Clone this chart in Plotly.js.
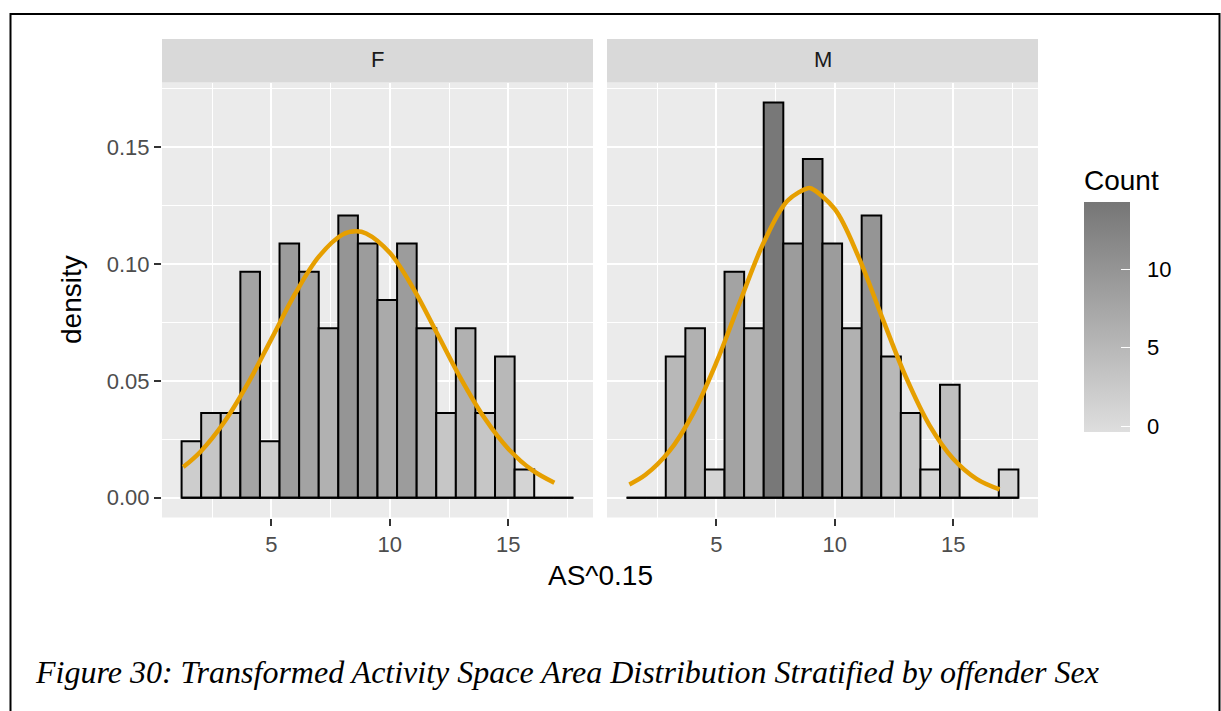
<!DOCTYPE html>
<html>
<head>
<meta charset="utf-8">
<script src="https://cdn.plot.ly/plotly-3.0.1.min.js"></script>
<style>
  html, body { margin: 0; padding: 0; background: #ffffff; }
  #chart { width: 1221px; height: 711px; }
</style>
</head>
<body>
<div id="chart"></div>
<script>
// ---- data ----
const facets = ["F", "M"];
const binStart = 1.2025;
const binWidth = 0.8276;
const countsF = [2, 3, 3, 8, 2, 9, 8, 6, 10, 9, 7, 9, 6, 3, 6, 3, 5, 1, 0, 0];
const countsM = [0, 0, 5, 6, 1, 8, 6, 14, 9, 12, 9, 6, 10, 5, 3, 1, 4, 0, 0, 1];
const curveFx = [1.27, 2, 3, 4, 5, 6, 7, 8, 8.56, 9, 10, 11, 12, 13, 14, 15, 16, 16.95];
const curveFy = [0.0131, 0.0197, 0.0323, 0.0488, 0.0680, 0.0873, 0.1032, 0.1126, 0.1140, 0.1131, 0.1048, 0.0894, 0.0703, 0.0510, 0.0341, 0.0210, 0.0119, 0.0064];
const curveMx = [1.32, 2, 3, 4, 5, 6, 7, 8, 8.87, 9, 10, 11, 12, 13, 14, 15, 16, 16.96];
const curveMy = [0.0057, 0.0098, 0.0198, 0.0358, 0.0580, 0.0841, 0.1093, 0.1271, 0.1325, 0.1324, 0.1235, 0.1031, 0.0771, 0.0517, 0.0310, 0.0167, 0.0080, 0.0036];
const xTickVals = [5, 10, 15];
const yTickVals = [0, 0.05, 0.10, 0.15];
const legendTicks = [0, 5, 10];
const captionText = "Figure 30: Transformed Activity Space Area Distribution Stratified by offender Sex";

// ---- derived ----
const W = 1221, H = 711;
const px = v => v / W;
const py = v => 1 - v / H;

function centers(counts) { return counts.map((_, i) => binStart + (i + 0.5) * binWidth); }
function densities(counts) {
  const n = counts.reduce((a, b) => a + b, 0);
  return counts.map(c => c / (n * binWidth));
}
const binEnd = binStart + countsF.length * binWidth;

const sans = "Liberation Sans, Arial, Helvetica, sans-serif";
const barLine = { color: "#000000", width: 2 };

const traces = [
  {
    type: "bar", x: centers(countsF), y: densities(countsF), width: binWidth,
    xaxis: "x", yaxis: "y",
    marker: { color: countsF, coloraxis: "coloraxis", line: barLine },
    hoverinfo: "skip"
  },
  {
    type: "bar", x: centers(countsM), y: densities(countsM), width: binWidth,
    xaxis: "x2", yaxis: "y2",
    marker: { color: countsM, coloraxis: "coloraxis", line: barLine },
    hoverinfo: "skip"
  },
  {
    type: "scatter", mode: "lines", x: [binStart, binEnd], y: [0, 0],
    xaxis: "x", yaxis: "y", line: { color: "#000000", width: 2 }, hoverinfo: "skip"
  },
  {
    type: "scatter", mode: "lines", x: [binStart, binEnd], y: [0, 0],
    xaxis: "x2", yaxis: "y2", line: { color: "#000000", width: 2 }, hoverinfo: "skip"
  },
  {
    type: "scatter", mode: "lines", x: curveFx, y: curveFy,
    xaxis: "x", yaxis: "y", line: { color: "#E69F00", width: 4.5, shape: "spline" }, hoverinfo: "skip"
  },
  {
    type: "scatter", mode: "lines", x: curveMx, y: curveMy,
    xaxis: "x2", yaxis: "y2", line: { color: "#E69F00", width: 4.5, shape: "spline" }, hoverinfo: "skip"
  }
];

const panelTop = 82.5, panelBottom = 517.5, stripTop = 39;
const fLeft = 162, fRight = 593, mLeft = 607, mRight = 1038;

// colour bar geometry (pixels)
const cbLeft = 1084, cbWidth = 46, cbTop = 201.7, cbBottom = 431.7, cbTitleH = 36;
const cbMin = -0.36, cbMax = 14.31;

function xAxis(domain, anchor) {
  return {
    domain: domain, anchor: anchor,
    range: [0.375, 18.583],
    tickvals: xTickVals, ticktext: xTickVals.map(String),
    ticks: "outside", ticklen: 7, tickwidth: 2, tickcolor: "#333333",
    tickfont: { family: sans, size: 22, color: "#4d4d4d" },
    showgrid: true, gridcolor: "#ffffff", gridwidth: 2,
    minor: { dtick: 2.5, tick0: 0, showgrid: true, gridcolor: "#ffffff", gridwidth: 1, ticks: "" },
    zeroline: false, showline: false, fixedrange: true
  };
}
function yAxis(anchor, showLabels) {
  return {
    domain: [py(panelBottom), py(panelTop)], anchor: anchor,
    range: [-0.00846, 0.1777],
    tickvals: yTickVals, ticktext: yTickVals.map(v => v.toFixed(2)),
    ticks: showLabels ? "outside" : "", ticklen: 7, tickwidth: 2, tickcolor: "#333333",
    showticklabels: showLabels,
    tickfont: { family: sans, size: 22, color: "#4d4d4d" },
    showgrid: true, gridcolor: "#ffffff", gridwidth: 2,
    minor: { dtick: 0.025, tick0: 0, showgrid: true, gridcolor: "#ffffff", gridwidth: 1, ticks: "" },
    zeroline: false, showline: false, fixedrange: true
  };
}

// left-side white ticks of the colour bar (right side drawn by the colour bar itself)
const cbTickShapes = legendTicks.map(v => {
  const yPix = cbBottom - (v - cbMin) / (cbMax - cbMin) * (cbBottom - cbTop);
  return { type: "line", xref: "paper", yref: "paper",
    x0: px(cbLeft), x1: px(cbLeft + 9), y0: py(yPix), y1: py(yPix),
    line: { color: "#ffffff", width: 1 }, layer: "above" };
});

const layout = {
  width: W, height: H,
  margin: { l: 0, r: 0, t: 0, b: 0, pad: 0 },
  paper_bgcolor: "#ffffff",
  plot_bgcolor: "#ebebeb",
  showlegend: false,
  xaxis: xAxis([px(fLeft), px(fRight)], "y"),
  yaxis: yAxis("x", true),
  xaxis2: xAxis([px(mLeft), px(mRight)], "y2"),
  yaxis2: yAxis("x2", false),
  coloraxis: {
    cmin: cbMin, cmax: cbMax,
    colorscale: [[0, "rgb(222,222,222)"], [1, "rgb(118,118,118)"]],
    colorbar: {
      title: { text: "Count", side: "top", font: { family: sans, size: 28, color: "#000000" } },
      tickvals: legendTicks, ticktext: legendTicks.map(v => "\u00a0\u00a0" + v),
      ticks: "inside", ticklen: 9, tickwidth: 1, tickcolor: "#ffffff",
      tickfont: { family: sans, size: 22, color: "#000000" },
      thicknessmode: "pixels", thickness: cbWidth,
      lenmode: "pixels", len: (cbBottom - cbTop) + cbTitleH,
      x: px(cbLeft), xanchor: "left", xpad: 0,
      y: py(cbBottom), yanchor: "bottom", ypad: 0,
      outlinewidth: 0, bgcolor: "rgba(0,0,0,0)"
    }
  },
  shapes: [
    { type: "rect", xref: "paper", yref: "paper", x0: px(fLeft), x1: px(fRight), y0: py(panelTop), y1: py(stripTop),
      fillcolor: "#d9d9d9", line: { width: 0 }, layer: "below" },
    { type: "rect", xref: "paper", yref: "paper", x0: px(mLeft), x1: px(mRight), y0: py(panelTop), y1: py(stripTop),
      fillcolor: "#d9d9d9", line: { width: 0 }, layer: "below" },
    { type: "rect", xref: "paper", yref: "paper", x0: px(10.5), x1: px(1219.5), y0: -0.05, y1: py(14),
      fillcolor: "rgba(0,0,0,0)", line: { color: "#000000", width: 2 } }
  ].concat(cbTickShapes),
  annotations: [
    { text: facets[0], xref: "paper", yref: "paper", x: px((fLeft + fRight) / 2), y: py(60),
      xanchor: "center", yanchor: "middle", showarrow: false,
      font: { family: sans, size: 22, color: "#1a1a1a" } },
    { text: facets[1], xref: "paper", yref: "paper", x: px((mLeft + mRight) / 2), y: py(60),
      xanchor: "center", yanchor: "middle", showarrow: false,
      font: { family: sans, size: 22, color: "#1a1a1a" } },
    { text: "AS^0.15", xref: "paper", yref: "paper", x: px((fLeft + mRight) / 2), y: py(575),
      xanchor: "center", yanchor: "middle", showarrow: false,
      font: { family: sans, size: 28, color: "#000000" } },
    { text: "density", xref: "paper", yref: "paper", x: px(72), y: py((panelTop + panelBottom) / 2),
      xanchor: "center", yanchor: "middle", showarrow: false, textangle: -90,
      font: { family: sans, size: 28, color: "#000000" } },
    { text: "<i>" + captionText + "</i>", xref: "paper", yref: "paper", x: px(33), y: py(672),
      xanchor: "left", yanchor: "middle", showarrow: false,
      font: { family: "Liberation Serif, Times New Roman, serif", size: 32, color: "#000000", style: "italic" } }
  ]
};

Plotly.newPlot("chart", traces, layout, { displayModeBar: false, staticPlot: true });
</script>
</body>
</html>
